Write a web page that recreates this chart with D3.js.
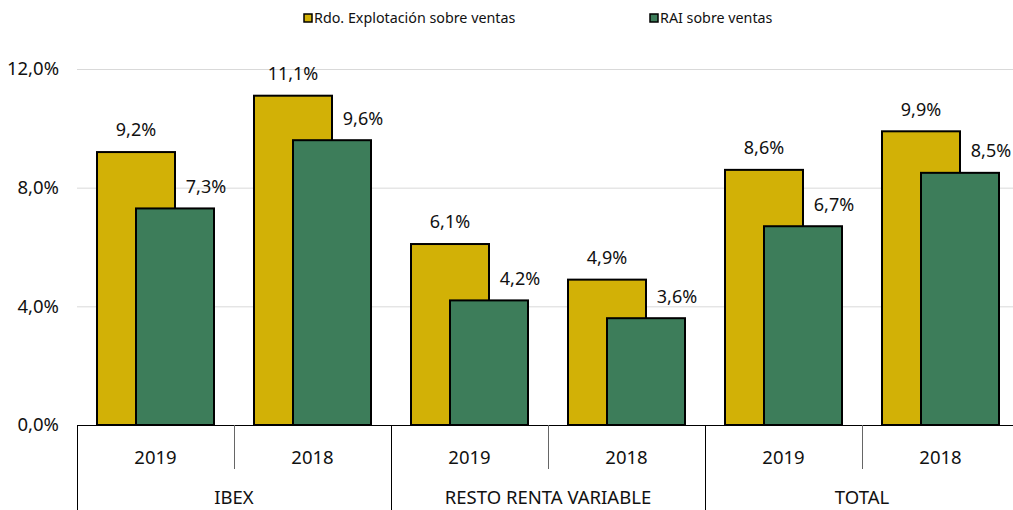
<!DOCTYPE html>
<html>
<head>
<meta charset="utf-8">
<script src="https://cdn.jsdelivr.net/npm/d3@7"></script>
<style>
  body { margin: 0; background: #fff; }
  svg { display: block; font-family: "Noto Sans", sans-serif; }
</style>
</head>
<body>
<svg id="chart" width="1013" height="510"></svg>
<script>
"use strict";
// data
var groups = ["IBEX", "RESTO RENTA VARIABLE", "TOTAL"];
var years = ["2019", "2018"];
var seriesNames = ["Rdo. Explotación sobre ventas", "RAI sobre ventas"];
var explotacion = [9.2, 11.1, 6.1, 4.9, 8.6, 9.9];
var rai = [7.3, 9.6, 4.2, 3.6, 6.7, 8.5];
var yTicks = [0, 4, 8, 12];

(function() {
var colors = ["#d2b106", "#3d7d5a"];
var svg = d3.select("#chart");

var left = 77, slot = 157, plotTop = 69, plotBottom = 425;
var cats = [];
groups.forEach(function(g) { years.forEach(function(yr) { cats.push(g + "|" + yr); }); });

var x = d3.scaleBand().domain(cats).range([left, left + slot * cats.length]);
var y = d3.scaleLinear().domain([0, 12]).range([plotBottom, plotTop]);

var fmt = function(v) { return d3.format(".1f")(v).replace(".", ",") + "%"; };

// grid
svg.append("g").selectAll("line")
  .data(yTicks.filter(function(d) { return d > 0; }))
  .enter().append("line")
  .attr("x1", left).attr("x2", 1013)
  .attr("y1", function(d) { return y(d) + 0.5; }).attr("y2", function(d) { return y(d) + 0.5; })
  .attr("stroke", "#d9d9d9").attr("stroke-width", 1);

// y labels
svg.append("g").selectAll("text")
  .data(yTicks).enter().append("text")
  .attr("x", 59).attr("y", function(d) { return y(d); })
  .attr("dy", "0.35em").attr("text-anchor", "end")
  .attr("font-size", 18.5).attr("fill", "#111")
  .text(fmt);

var barW = 78;
var rows = cats.map(function(c, i) { return {cat: c, a: explotacion[i], b: rai[i]}; });

// bars
var bars = svg.append("g");
bars.selectAll(".ba").data(rows).enter().append("rect")
  .attr("x", function(d) { return x(d.cat) + 20; })
  .attr("y", function(d) { return y(d.a); })
  .attr("width", barW)
  .attr("height", function(d) { return y(0) - y(d.a); })
  .attr("fill", colors[0]).attr("stroke", "#000").attr("stroke-width", 2);
bars.selectAll(".bb").data(rows).enter().append("rect")
  .attr("x", function(d) { return x(d.cat) + 59; })
  .attr("y", function(d) { return y(d.b); })
  .attr("width", barW)
  .attr("height", function(d) { return y(0) - y(d.b); })
  .attr("fill", colors[1]).attr("stroke", "#000").attr("stroke-width", 2);

// value labels
var lab = svg.append("g").attr("font-size", 18).attr("fill", "#111").attr("text-anchor", "middle");
lab.selectAll(".la").data(rows).enter().append("text")
  .attr("x", function(d) { return x(d.cat) + 20 + barW / 2; })
  .attr("y", function(d) { return y(d.a) - 22; })
  .attr("dy", "0.35em")
  .text(function(d) { return fmt(d.a); });
lab.selectAll(".lb").data(rows).enter().append("text")
  .attr("x", function(d) { return x(d.cat) + 59 + barW / 2 + 31; })
  .attr("y", function(d) { return y(d.b) - 22; })
  .attr("dy", "0.35em")
  .text(function(d) { return fmt(d.b); });

// x axis
var ax = svg.append("g").attr("stroke", "#000").attr("stroke-width", 1);
ax.append("line").attr("x1", left).attr("x2", 1013).attr("y1", plotBottom + 0.5).attr("y2", plotBottom + 0.5);
cats.forEach(function(c, i) {
  var xx = Math.round(x(c)) + 0.5;
  ax.append("line").attr("x1", xx).attr("x2", xx)
    .attr("y1", plotBottom).attr("y2", i % 2 === 0 ? 510 : 469)
    .attr("stroke", i % 2 === 0 ? "#000" : "#666");
});

var xl = svg.append("g").attr("font-size", 18.5).attr("fill", "#111").attr("text-anchor", "middle");
xl.selectAll(".yr").data(cats).enter().append("text")
  .attr("x", function(d) { return x(d) + x.bandwidth() / 2; })
  .attr("y", 458).attr("dy", "0.35em")
  .text(function(d) { return d.split("|")[1]; });
xl.selectAll(".gr").data(groups).enter().append("text")
  .attr("x", function(d, i) { return left + slot * (2 * i + 1); })
  .attr("y", 498).attr("dy", "0.35em")
  .text(function(d) { return d; });

// legend
var legX = [304, 650];
var leg = svg.append("g").selectAll("g").data(seriesNames).enter().append("g")
  .attr("transform", function(d, i) { return "translate(" + legX[i] + ",18)"; });
leg.append("rect").attr("x", 0).attr("y", -4).attr("width", 8).attr("height", 8)
  .attr("fill", function(d, i) { return colors[i]; })
  .attr("stroke", "#000").attr("stroke-width", 1.5);
leg.append("text").attr("x", 10).attr("dy", "0.35em")
  .attr("font-size", 14.3).attr("fill", "#111")
  .text(function(d) { return d; });
})();
</script>
</body>
</html>
